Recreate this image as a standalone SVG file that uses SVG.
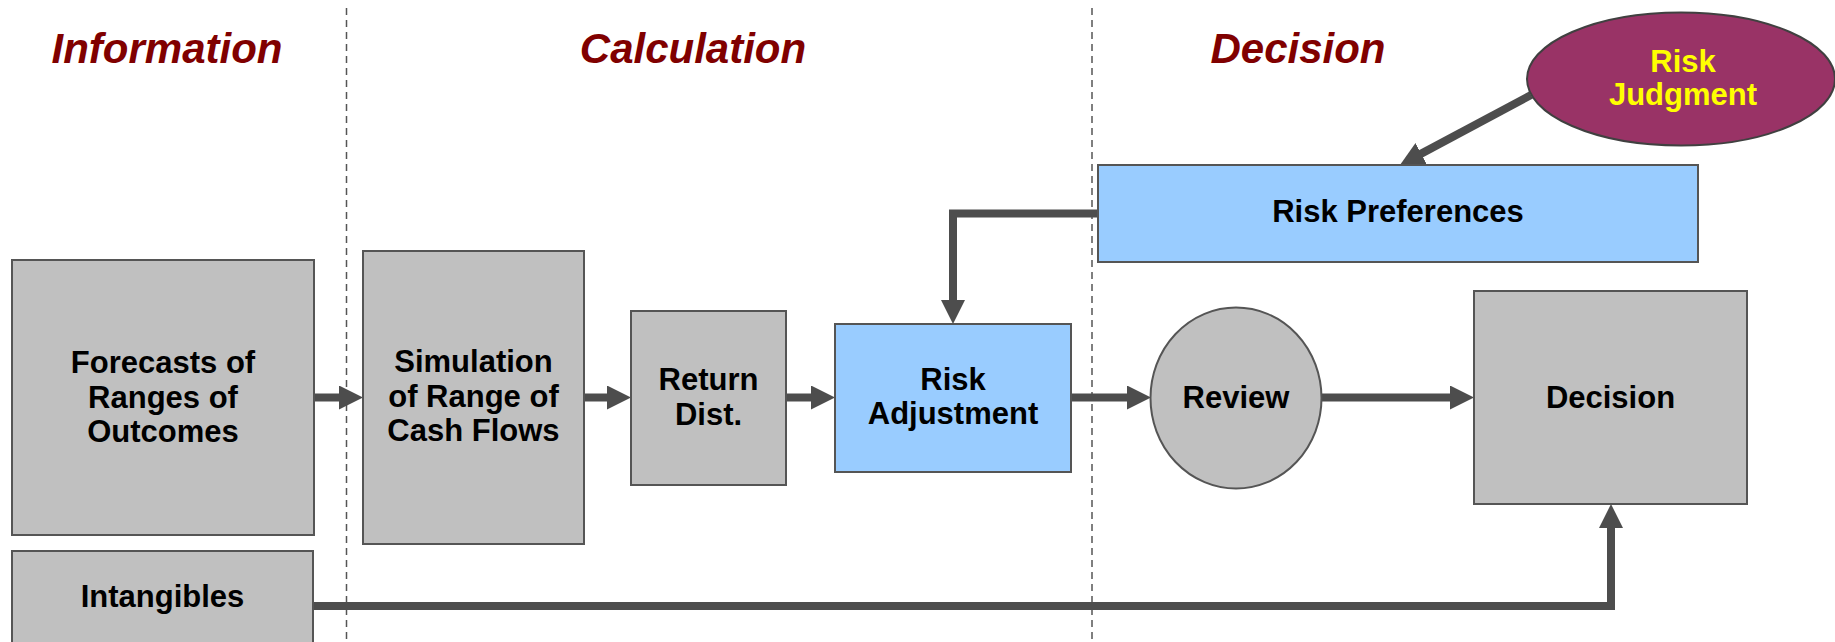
<svg xmlns="http://www.w3.org/2000/svg" width="1835" height="642" viewBox="0 0 1835 642">
<style>
.box{fill:#C0C0C0;stroke:#555555;stroke-width:2}
.blue{fill:#99CCFF;stroke:#555555;stroke-width:2}
.lbl{font-family:"Liberation Sans",Arial,sans-serif;font-weight:bold;font-size:31px;fill:#000;text-anchor:middle}
.ttl{font-family:"Liberation Sans",Arial,sans-serif;font-weight:bold;font-style:italic;font-size:42px;fill:#800000;text-anchor:middle}
.yl{fill:#FFFF00}
.con{fill:none;stroke:#4D4D4D;stroke-width:8}
.dash{stroke:#555555;stroke-width:1.5;stroke-dasharray:7 5;fill:none}
</style>
<defs>
<marker id="ah" markerUnits="userSpaceOnUse" markerWidth="24" markerHeight="24" refX="2" refY="12" orient="auto">
<path d="M0,0 L24,12 L0,24 z" fill="#4D4D4D"/>
</marker>
</defs>
<rect width="1835" height="642" fill="#FFFFFF"/>
<g id="dividers">
<line class="dash" x1="346.5" y1="8" x2="346.5" y2="642"/>
<line class="dash" x1="1092" y1="8" x2="1092" y2="642"/>
</g>
<g id="titles">
<text class="ttl" x="167" y="63">Information</text>
<text class="ttl" x="693" y="63">Calculation</text>
<text class="ttl" x="1298" y="63">Decision</text>
</g>
<g id="connectors">
<line class="con" x1="314" y1="397.5" x2="341" y2="397.5" marker-end="url(#ah)"/>
<line class="con" x1="584" y1="397.5" x2="609" y2="397.5" marker-end="url(#ah)"/>
<line class="con" x1="786" y1="397.5" x2="813" y2="397.5" marker-end="url(#ah)"/>
<line class="con" x1="1071" y1="397.5" x2="1129" y2="397.5" marker-end="url(#ah)"/>
<line class="con" x1="1322" y1="397.5" x2="1452" y2="397.5" marker-end="url(#ah)"/>
<path class="con" d="M1098,213.5 H953 V302" marker-end="url(#ah)"/>
<path class="con" d="M313,606 H1611 V526" marker-end="url(#ah)"/>
<line class="con" x1="1531" y1="95" x2="1419.4" y2="154.6" marker-end="url(#ah)"/>
</g>
<g id="forecasts">
<rect class="box" x="12" y="260" width="302" height="275"/>
<text class="lbl" x="163" y="373">Forecasts of</text>
<text class="lbl" x="163" y="408">Ranges of</text>
<text class="lbl" x="163" y="442">Outcomes</text>
</g>
<g id="intangibles">
<rect class="box" x="12" y="551" width="301" height="100"/>
<text class="lbl" x="162.5" y="607">Intangibles</text>
</g>
<g id="simulation">
<rect class="box" x="363" y="251" width="221" height="293"/>
<text class="lbl" x="473.5" y="372">Simulation</text>
<text class="lbl" x="473.5" y="407">of Range of</text>
<text class="lbl" x="473.5" y="441">Cash Flows</text>
</g>
<g id="return-dist">
<rect class="box" x="631" y="311" width="155" height="174"/>
<text class="lbl" x="708.5" y="390">Return</text>
<text class="lbl" x="708.5" y="425">Dist.</text>
</g>
<g id="risk-adjustment">
<rect class="blue" x="835" y="324" width="236" height="148"/>
<text class="lbl" x="953" y="390">Risk</text>
<text class="lbl" x="953" y="424">Adjustment</text>
</g>
<g id="review">
<ellipse class="box" cx="1236" cy="398" rx="85.5" ry="90.5"/>
<text class="lbl" x="1236" y="407.5">Review</text>
</g>
<g id="decision">
<rect class="box" x="1474" y="291" width="273" height="213"/>
<text class="lbl" x="1610.5" y="408">Decision</text>
</g>
<g id="risk-preferences">
<rect class="blue" x="1098" y="165" width="600" height="97"/>
<text class="lbl" x="1398" y="222">Risk Preferences</text>
</g>
<g id="risk-judgment">
<ellipse cx="1681" cy="79" rx="154" ry="66.5" fill="#993366" stroke="#404040" stroke-width="2"/>
<text class="lbl yl" x="1683" y="72">Risk</text>
<text class="lbl yl" x="1683" y="105">Judgment</text>
</g>
</svg>
